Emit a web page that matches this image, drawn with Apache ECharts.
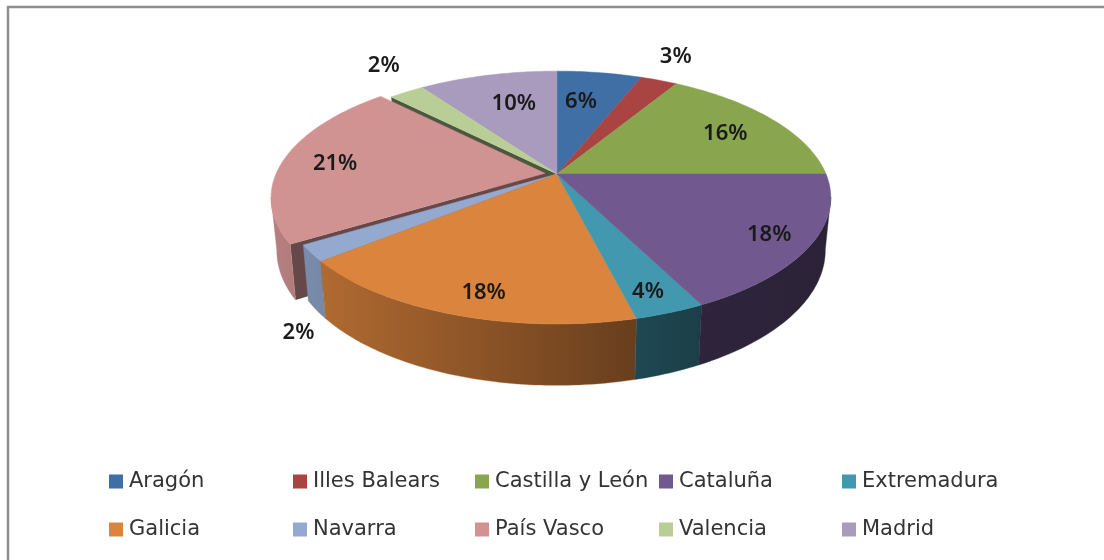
<!DOCTYPE html>
<html>
<head>
<meta charset="utf-8">
<style>html,body{margin:0;padding:0;background:#fff}#c{width:1104px;height:560px}</style>
<script src="https://cdn.jsdelivr.net/npm/echarts@6/dist/echarts.min.js"></script>
</head>
<body>
<div id="c"></div>
<script>
// ---- data ----
var categories = ['Aragón','Illes Balears','Castilla y León','Cataluña','Extremadura','Galicia','Navarra','País Vasco','Valencia','Madrid'];
var values = [6, 2.6, 16.4, 17.6, 3.5, 18, 2.1, 21.49, 2.49, 9.81];
// ---- style ----
var colors = ['#3F6FA5','#A94442','#89A54E','#71588F','#4198AF','#DB843D','#93A9CF','#D19392','#B9CD96','#A99BBD'];
var explode = [0,0,0,0,0,0,0,0.045,0,0];
var drawOrder = [2,2,2,8,7,6,5,4,3,2];
var labelRadius = [0.68,1.30,0.76,0.85,0.86,0.85,1.30,0.80,1.32,0.68];
var labelShift = [-2.3,-1.8,1,0,0.8,-2.6,-18,-0.5,4,2.3];
var legendCols = [109,293,475,659,842];
var legendRows = [471,519];
// ---- projection of the tilted disc ----
var hub = {x:557, y:174}, B = 269, A = 122, P = 0.186, wallKx = 0.98, wallKy = 1.07, wallD = 51;
var total = values.reduce(function(a,b){return a+b;},0);
var starts = [], run = 0;
values.forEach(function(v){starts.push(run/total*360); run += v;});
function rad(d){return d*Math.PI/180;}
function project(theta,r,e,mid){
  var u = r*Math.sin(rad(theta)) + e*Math.sin(rad(mid));
  var v = r*Math.cos(rad(theta)) + e*Math.cos(rad(mid));
  var w = 1+P*v;
  return [B*u/w, -A*v/w];
}
function topPt(p){return [hub.x+p[0], hub.y+p[1]];}
function botPt(p){return [hub.x+wallKx*p[0], hub.y+wallKy*p[1]+wallD];}
function extremeAngle(from,to,sign,e,mid){
  var best=from, bestX=-Infinity;
  for(var t=from;t<=to;t+=0.5){var x=sign*project(t,1,e,mid)[0]; if(x>bestX){bestX=x;best=t;}}
  return best;
}
function shadeAt(x){
  var s=[[270,.87],[323,.8],[557,.55],[640,.47],[703,.41],[831,.39]];
  if(x<=s[0][0])return s[0][1];
  for(var i=1;i<s.length;i++){if(x<=s[i][0]){var t=(x-s[i-1][0])/(s[i][0]-s[i-1][0]);return s[i-1][1]+t*(s[i][1]-s[i-1][1]);}}
  return s[s.length-1][1];
}
function darken(hex,f){
  var n=parseInt(hex.slice(1),16);
  return 'rgb('+Math.round((n>>16&255)*f)+','+Math.round((n>>8&255)*f)+','+Math.round((n&255)*f)+')';
}
function arc(a0,a1,e,mid){
  var pts=[];
  for(var t=a0;t<a1;t+=1) pts.push(project(t,1,e,mid));
  pts.push(project(a1,1,e,mid));
  return pts;
}
function sliceRender(i){
  return function(){
    var a0=starts[i], a1=a0+values[i]/total*360, mid=(a0+a1)/2, e=explode[i], kids=[];
    var rim=arc(a0,a1,e,mid);
    var apex=project(0,0,e,mid);
    // exposed radial faces next to the exploded slice
    if(i===7||i===8){
      var rp = project(a0,1,e,mid);
      kids.push({type:'polygon',shape:{points:[topPt(apex),topPt(rp),botPt(rp),botPt(apex)]},
        style:{fill:darken(colors[i],i===7?.49:.42)}});
    }
    // outer wall, limited to the visible sweep between the left and right extremes of the rim
    var wa0=Math.max(a0,extremeAngle(60,180,1,e,mid)), wa1=Math.min(a1,extremeAngle(180,330,-1,e,mid));
    if(wa1>wa0){
      var wall=arc(wa0,wa1,e,mid);
      var topA=wall.map(topPt), botA=wall.map(botPt).reverse();
      var xs=topA.map(function(p){return p[0];});
      var xl=Math.min.apply(null,xs), xr=Math.max.apply(null,xs);
      var c0=darken(colors[i],shadeAt(xl)), c1=darken(colors[i],shadeAt(xr));
      kids.push({type:'polygon',shape:{points:topA.concat(botA)},
        style:{fill:new echarts.graphic.LinearGradient(0,0,1,0,[{offset:0,color:c0},{offset:1,color:c1}]),
          stroke:c0,lineWidth:0.4}});
    }
    // top face
    kids.push({type:'polygon',shape:{points:[topPt(apex)].concat(rim.map(topPt))},
      style:{fill:colors[i],stroke:colors[i],lineWidth:0.5},z2:5});
    return {type:'group',children:kids};
  };
}
function labelRender(params){
  var i=params.dataIndex, a0=starts[i], a1=a0+values[i]/total*360, mid=(a0+a1)/2;
  var p=topPt(project(mid+labelShift[i],labelRadius[i],explode[i],mid));
  return {type:'text',x:p[0],y:p[1]+1,
    style:{text:Math.round(values[i]/total*100)+'%',fill:'#1a1a1a',font:'600 22px "Noto Sans", sans-serif',align:'center',verticalAlign:'middle'}};
}
var series = categories.map(function(name,i){
  return {type:'custom',name:name,coordinateSystem:'none',silent:true,animation:false,z:drawOrder[i],
    itemStyle:{color:colors[i]},data:[[values[i]]],renderItem:sliceRender(i)};
});
series.push({type:'custom',name:'labels',coordinateSystem:'none',silent:true,animation:false,z:20,
  data:values.map(function(v){return [v];}),renderItem:labelRender});
var legends = categories.map(function(name,i){
  return {data:[name],left:legendCols[i%5],top:legendRows[Math.floor(i/5)],orient:'horizontal',padding:0,
    itemWidth:14,itemHeight:14,itemGap:0,icon:'rect',selectedMode:false,
    textStyle:{fontFamily:'"DejaVu Sans", sans-serif',fontSize:21,color:'#333',padding:[0,0,0,1]}};
});
var chart = echarts.init(document.getElementById('c'),null,{renderer:'canvas'});
chart.setOption({
  animation:false,
  backgroundColor:'#fff',
  legend:legends,
  series:series,
  graphic:[
    {type:'line',shape:{x1:8,y1:6,x2:8,y2:560},style:{stroke:'#8f8f8f',lineWidth:2.5},silent:true},
    {type:'line',shape:{x1:7,y1:7,x2:1104,y2:7},style:{stroke:'#8f8f8f',lineWidth:2.5},silent:true}
  ]
});
</script>
</body>
</html>
